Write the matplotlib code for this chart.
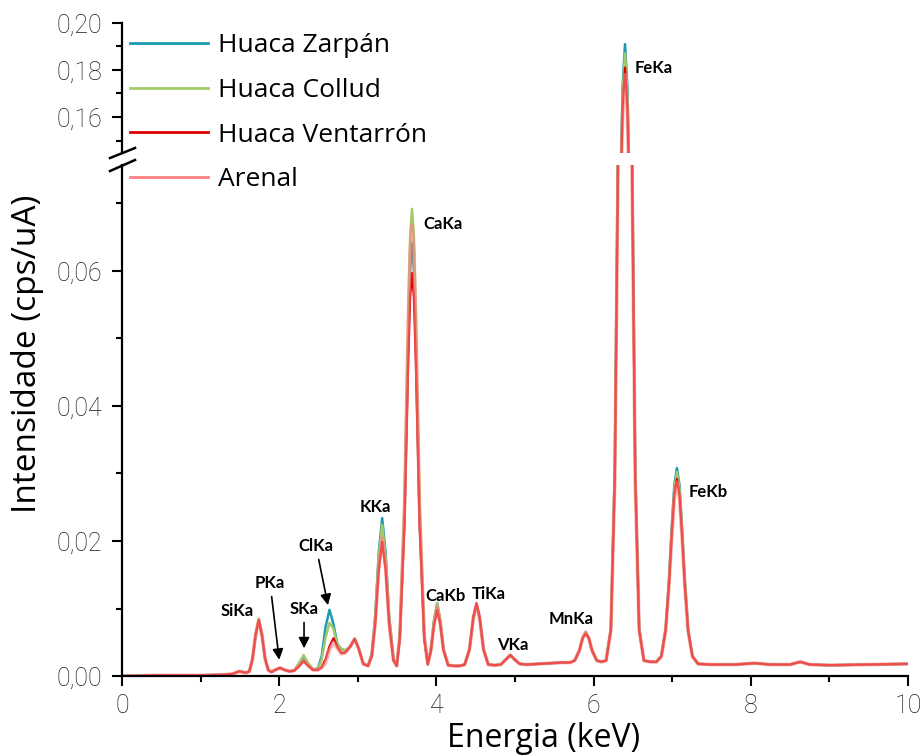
import matplotlib
matplotlib.use("Agg")
import matplotlib.pyplot as plt
from matplotlib import font_manager
from matplotlib.ticker import MultipleLocator, FuncFormatter
from matplotlib.lines import Line2D

# XRF spectra, energy in keV and intensity in cps/uA
energy = [
    0.00, 0.50, 1.00, 1.30, 1.40, 1.45, 1.49, 1.53, 1.58, 1.62,
    1.66, 1.70, 1.74, 1.78, 1.82, 1.86, 1.90, 1.95, 2.01, 2.07,
    2.13, 2.19, 2.25, 2.31, 2.37, 2.43, 2.49, 2.54, 2.59, 2.64,
    2.69, 2.74, 2.79, 2.84, 2.90, 2.96, 3.01, 3.07, 3.13, 3.178,
    3.222, 3.266, 3.31, 3.354, 3.398, 3.453, 3.495, 3.534, 3.594, 3.642,
    3.666, 3.69, 3.714, 3.738, 3.786, 3.846, 3.89, 3.93, 3.97, 4.01,
    4.05, 4.09, 4.15, 4.22, 4.30, 4.36, 4.42, 4.47, 4.51, 4.55,
    4.60, 4.66, 4.74, 4.82, 4.88, 4.94, 5.00, 5.06, 5.15, 5.30,
    5.45, 5.60, 5.70, 5.76, 5.82, 5.86, 5.90, 5.94, 5.98, 6.04,
    6.10, 6.16, 6.22, 6.27, 6.31, 6.34, 6.37, 6.40, 6.43, 6.46,
    6.49, 6.53, 6.58, 6.64, 6.72, 6.80, 6.862, 6.917, 6.961, 6.994,
    7.027, 7.06, 7.093, 7.126, 7.159, 7.203, 7.258, 7.33, 7.50, 7.80,
    8.05, 8.25, 8.50, 8.63, 8.75, 9.00, 9.50, 10.0,
]

zarpan = [
    0.0000, 0.0001, 0.0001, 0.0002, 0.0003, 0.0005, 0.0007, 0.0006, 0.0005, 0.0007,
    0.0025, 0.0061, 0.0083, 0.0061, 0.0026, 0.0009, 0.0006, 0.0009, 0.0012, 0.0009,
    0.0007, 0.0008, 0.0017, 0.0027, 0.0017, 0.0010, 0.0011, 0.0029, 0.0073, 0.0098,
    0.0077, 0.0047, 0.0040, 0.0038, 0.0043, 0.0055, 0.0041, 0.0018, 0.0015, 0.0033,
    0.0089, 0.0182, 0.0234, 0.0183, 0.0090, 0.0026, 0.0015, 0.0057, 0.0239, 0.0500,
    0.0602, 0.0641, 0.0602, 0.0500, 0.0239, 0.0057, 0.0018, 0.0039, 0.0082, 0.0108,
    0.0082, 0.0040, 0.0016, 0.0015, 0.0015, 0.0017, 0.0039, 0.0086, 0.0106, 0.0086,
    0.0039, 0.0017, 0.0016, 0.0017, 0.0024, 0.0031, 0.0024, 0.0018, 0.0017, 0.0018,
    0.0019, 0.0020, 0.0020, 0.0023, 0.0038, 0.0056, 0.0065, 0.0056, 0.0038, 0.0023,
    0.0021, 0.0023, 0.0071, 0.0307, 0.0787, 0.1284, 0.1730, 0.1910, 0.1730, 0.1284,
    0.0787, 0.0307, 0.0071, 0.0023, 0.0021, 0.0021, 0.0030, 0.0070, 0.0145, 0.0219,
    0.0283, 0.0308, 0.0283, 0.0219, 0.0145, 0.0069, 0.0029, 0.0018, 0.0017, 0.0017,
    0.0019, 0.0017, 0.0017, 0.0021, 0.0017, 0.0016, 0.0017, 0.0018,
]

collud = [
    0.0000, 0.0001, 0.0001, 0.0002, 0.0003, 0.0005, 0.0007, 0.0006, 0.0005, 0.0007,
    0.0025, 0.0062, 0.0085, 0.0062, 0.0026, 0.0009, 0.0006, 0.0009, 0.0012, 0.0009,
    0.0007, 0.0008, 0.0019, 0.0031, 0.0019, 0.0010, 0.0010, 0.0024, 0.0057, 0.0079,
    0.0070, 0.0046, 0.0040, 0.0038, 0.0043, 0.0055, 0.0041, 0.0018, 0.0015, 0.0032,
    0.0086, 0.0175, 0.0224, 0.0176, 0.0087, 0.0025, 0.0015, 0.0060, 0.0257, 0.0539,
    0.0650, 0.0692, 0.0650, 0.0539, 0.0257, 0.0060, 0.0018, 0.0039, 0.0082, 0.0108,
    0.0082, 0.0040, 0.0016, 0.0015, 0.0015, 0.0017, 0.0039, 0.0086, 0.0105, 0.0086,
    0.0039, 0.0017, 0.0016, 0.0017, 0.0024, 0.0031, 0.0024, 0.0018, 0.0017, 0.0018,
    0.0019, 0.0020, 0.0020, 0.0023, 0.0038, 0.0056, 0.0065, 0.0056, 0.0038, 0.0023,
    0.0021, 0.0023, 0.0070, 0.0301, 0.0771, 0.1258, 0.1694, 0.1870, 0.1694, 0.1258,
    0.0771, 0.0301, 0.0070, 0.0023, 0.0021, 0.0021, 0.0029, 0.0069, 0.0142, 0.0215,
    0.0277, 0.0302, 0.0277, 0.0215, 0.0142, 0.0068, 0.0029, 0.0018, 0.0017, 0.0017,
    0.0019, 0.0017, 0.0017, 0.0021, 0.0017, 0.0016, 0.0017, 0.0018,
]

ventarron = [
    0.0000, 0.0001, 0.0001, 0.0002, 0.0003, 0.0005, 0.0007, 0.0006, 0.0005, 0.0007,
    0.0025, 0.0061, 0.0083, 0.0061, 0.0026, 0.0009, 0.0006, 0.0009, 0.0012, 0.0009,
    0.0007, 0.0008, 0.0014, 0.0022, 0.0015, 0.0009, 0.0009, 0.0013, 0.0025, 0.0044,
    0.0056, 0.0043, 0.0034, 0.0035, 0.0043, 0.0055, 0.0041, 0.0018, 0.0015, 0.0029,
    0.0077, 0.0156, 0.0199, 0.0157, 0.0078, 0.0023, 0.0015, 0.0054, 0.0223, 0.0466,
    0.0561, 0.0597, 0.0561, 0.0466, 0.0223, 0.0054, 0.0017, 0.0037, 0.0075, 0.0098,
    0.0075, 0.0038, 0.0016, 0.0015, 0.0015, 0.0017, 0.0039, 0.0087, 0.0108, 0.0088,
    0.0039, 0.0017, 0.0016, 0.0017, 0.0024, 0.0031, 0.0024, 0.0018, 0.0017, 0.0018,
    0.0019, 0.0020, 0.0020, 0.0023, 0.0038, 0.0056, 0.0063, 0.0056, 0.0038, 0.0023,
    0.0021, 0.0023, 0.0068, 0.0292, 0.0747, 0.1218, 0.1640, 0.1810, 0.1640, 0.1218,
    0.0747, 0.0292, 0.0068, 0.0023, 0.0021, 0.0021, 0.0029, 0.0068, 0.0138, 0.0208,
    0.0268, 0.0292, 0.0268, 0.0208, 0.0138, 0.0067, 0.0029, 0.0018, 0.0017, 0.0017,
    0.0019, 0.0017, 0.0017, 0.0021, 0.0017, 0.0016, 0.0017, 0.0018,
]

arenal = [
    0.0000, 0.0001, 0.0001, 0.0002, 0.0003, 0.0005, 0.0007, 0.0006, 0.0005, 0.0007,
    0.0025, 0.0061, 0.0083, 0.0061, 0.0026, 0.0009, 0.0006, 0.0009, 0.0012, 0.0009,
    0.0007, 0.0008, 0.0015, 0.0023, 0.0015, 0.0009, 0.0009, 0.0012, 0.0020, 0.0039,
    0.0050, 0.0041, 0.0033, 0.0034, 0.0043, 0.0055, 0.0041, 0.0018, 0.0015, 0.0030,
    0.0079, 0.0160, 0.0205, 0.0161, 0.0080, 0.0024, 0.0015, 0.0059, 0.0249, 0.0521,
    0.0627, 0.0668, 0.0627, 0.0521, 0.0249, 0.0059, 0.0018, 0.0038, 0.0078, 0.0103,
    0.0078, 0.0039, 0.0016, 0.0015, 0.0015, 0.0017, 0.0039, 0.0086, 0.0106, 0.0086,
    0.0039, 0.0017, 0.0016, 0.0017, 0.0024, 0.0031, 0.0024, 0.0018, 0.0017, 0.0018,
    0.0019, 0.0020, 0.0020, 0.0023, 0.0038, 0.0056, 0.0065, 0.0056, 0.0038, 0.0023,
    0.0021, 0.0023, 0.0068, 0.0288, 0.0735, 0.1197, 0.1613, 0.1780, 0.1613, 0.1197,
    0.0735, 0.0288, 0.0068, 0.0023, 0.0021, 0.0021, 0.0029, 0.0067, 0.0136, 0.0205,
    0.0263, 0.0287, 0.0263, 0.0205, 0.0136, 0.0066, 0.0029, 0.0018, 0.0017, 0.0017,
    0.0019, 0.0017, 0.0017, 0.0021, 0.0017, 0.0016, 0.0017, 0.0018,
]

sample_names = ["Huaca Zarpán", "Huaca Collud", "Huaca Ventarrón", "Arenal"]

# peak labels: (text, x, y, arrow tip or None)
peak_labels = [
    ("SiKa", 1.463, 0.00963, None),
    ("PKa", 1.883, 0.01378, (2.00, 0.0024)),
    ("SKa", 2.316, 0.00993, (2.316, 0.0041)),
    ("ClKa", 2.468, 0.01926, (2.62, 0.0105)),
    ("KKa", 3.22, 0.0250, None),
    ("CaKa", 4.084, 0.0670, None),
    ("CaKb", 4.122, 0.01185, None),
    ("TiKa", 4.669, 0.01215, None),
    ("VKa", 4.975, 0.0046, None),
    ("MnKa", 5.712, 0.00844, None),
    ("FeKb", 7.455, 0.02726, None),
]

installed = {f.name for f in font_manager.fontManager.ttflist}
tick_font = "Roboto" if "Roboto" in installed else "DejaVu Sans"
label_font = "Open Sans" if "Open Sans" in installed else "DejaVu Sans"
note_font = "Lato" if "Lato" in installed else "DejaVu Sans"

colors = {"Huaca Zarpán": "#1c9ab2", "Huaca Collud": "#a3c96a",
          "Huaca Ventarrón": "#de0000", "Arenal": "#ff8080"}
widths = {"Huaca Zarpán": 1.8, "Huaca Collud": 1.8,
          "Huaca Ventarrón": 1.6, "Arenal": 2.6}
alphas = {"Huaca Zarpán": 1.0, "Huaca Collud": 1.0,
          "Huaca Ventarrón": 1.0, "Arenal": 0.6}
values = {"Huaca Zarpán": zarpan, "Huaca Collud": collud,
          "Huaca Ventarrón": ventarron, "Arenal": arenal}

fig = plt.figure(figsize=(9.23, 7.55), dpi=100)
ax_top = fig.add_axes([0.1322, 0.7974, 0.8515, 0.1722])
ax_bot = fig.add_axes([0.1322, 0.1046, 0.8515, 0.6769])

comma = FuncFormatter(lambda v, p: f"{v:.2f}".replace(".", ","))
for ax in (ax_top, ax_bot):
    for name in sample_names:
        ax.plot(energy, values[name], color=colors[name], lw=widths[name],
                alpha=alphas[name], solid_joinstyle="round")
    ax.set_xlim(0, 10)
    ax.spines["top"].set_visible(False)
    ax.spines["right"].set_visible(False)
    ax.spines["left"].set_linewidth(1.6)
    ax.spines["bottom"].set_linewidth(1.6)
    ax.tick_params(which="major", direction="out", length=7, width=1.5, pad=7,
                   labelsize=18, labelcolor="#1a1a1a")
    ax.tick_params(which="minor", direction="out", length=4.5, width=1.5)
    ax.yaxis.set_major_formatter(comma)
    ax.yaxis.set_major_locator(MultipleLocator(0.02))
    ax.yaxis.set_minor_locator(MultipleLocator(0.01))

ax_top.set_ylim(0.1447, 0.20)
ax_top.spines["bottom"].set_visible(False)
ax_top.tick_params(axis="x", which="both", bottom=False, labelbottom=False)

ax_bot.set_ylim(0, 0.0757)
ax_bot.xaxis.set_major_locator(MultipleLocator(2))
ax_bot.xaxis.set_minor_locator(MultipleLocator(1))
ax_bot.xaxis.set_major_formatter(FuncFormatter(lambda v, p: f"{v:.0f}"))
ax_bot.tick_params(axis="x", which="major", pad=6)

for ax in (ax_top, ax_bot):
    for lab in ax.get_xticklabels() + ax.get_yticklabels():
        lab.set_family(tick_font)
        lab.set_fontweight("light")

# axis break marks
for y0, y1 in [(0.7907, 0.8040), (0.7735, 0.7881)]:
    fig.add_artist(Line2D([0.1192, 0.1463], [y0, y1], color="black", lw=1.8,
                          transform=fig.transFigure))

# peak annotations
for text, x, y, tip in peak_labels:
    if tip is None:
        ax_bot.text(x, y, text, ha="center", va="center", fontsize=12,
                    fontweight="bold", family=note_font)
    else:
        ax_bot.annotate(text, xy=tip, xytext=(x, y), ha="center", va="center",
                        fontsize=12, fontweight="bold", family=note_font,
                        arrowprops=dict(arrowstyle="-|>", color="black", lw=1.2,
                                        mutation_scale=16, shrinkA=2, shrinkB=0))
ax_top.text(6.768, 0.1809, "FeKa", ha="center", va="center", fontsize=12,
            fontweight="bold", family=note_font)

legend_lines = [Line2D([], [], color=colors[n], lw=2.0) for n in sample_names]
fig.legend(legend_lines, sample_names, loc="upper left",
           bbox_to_anchor=(0.1408, 0.9557), frameon=False,
           prop={"family": label_font, "size": 19}, handlelength=2.95,
           handletextpad=0.38, labelspacing=0.74, borderpad=0, borderaxespad=0)

fig.text(0.030, 0.531, "Intensidade (cps/uA)", rotation=90, ha="center", va="center",
         fontsize=24, family=label_font)
fig.text(0.589, 0.022, "Energia (keV)", ha="center", va="center",
         fontsize=23, family=label_font)

fig.savefig("out.png", dpi=100)
